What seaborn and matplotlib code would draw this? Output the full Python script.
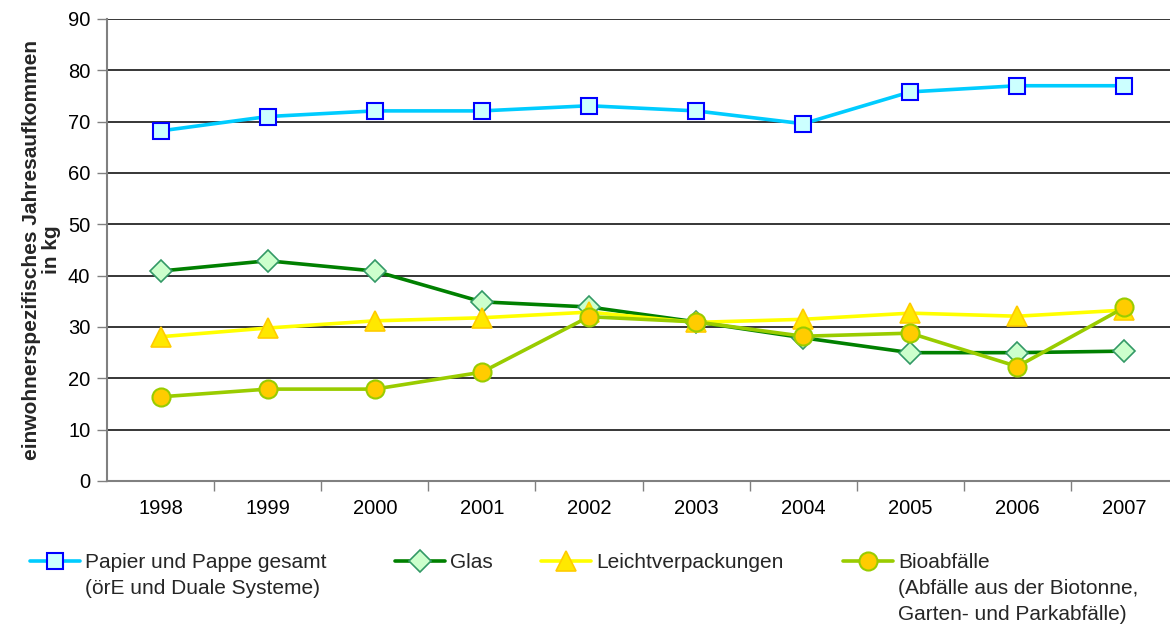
import matplotlib
matplotlib.use("Agg")
import matplotlib.pyplot as plt
import seaborn as sns
import pandas as pd
import numpy as np
from matplotlib.ticker import FixedLocator, MultipleLocator

years = ["1998", "1999", "2000", "2001", "2002", "2003", "2004", "2005", "2006", "2007"]
papier = [68.2, 71.0, 72.1, 72.1, 73.1, 72.1, 69.6, 75.8, 77.0, 77.0]
glas = [40.9, 42.9, 40.9, 34.9, 33.9, 31.0, 27.9, 25.0, 25.0, 25.3]
leicht = [28.1, 29.8, 31.2, 31.8, 32.9, 30.9, 31.5, 32.7, 32.1, 33.3]
bio = [16.4, 17.9, 17.9, 21.2, 32.0, 31.0, 28.2, 28.8, 22.3, 33.8]

labels = ["Papier und Pappe gesamt\n(örE und Duale Systeme)",
          "Glas",
          "Leichtverpackungen",
          "Bioabfälle\n(Abfälle aus der Biotonne,\nGarten- und Parkabfälle)"]

sns.set_theme(style="white")
plt.rcParams['font.family'] = ['Liberation Sans', 'DejaVu Sans']

W, H = 1170, 629
fig = plt.figure(figsize=(W / 100, H / 100), dpi=100)
ax = fig.add_axes([107 / W, 1 - 481 / H, (1178 - 107) / W, (481 - 19) / H])

x = np.arange(len(years))
styles = [
    dict(data=papier, color="#00CCFF", marker="s", ms=12, mfc="#CCFFFF", mec="#0000FF", mew=1.5),
    dict(data=glas, color="#008000", marker="D", ms=11, mfc="#CCFFCC", mec="#339966", mew=1.2),
    dict(data=leicht, color="#FFFF00", marker="^", ms=14.5, mfc="#FFE800", mec="#FFCC00", mew=1.2),
    dict(data=bio, color="#99CC00", marker="o", ms=13, mfc="#FFCC00", mec="#99CC00", mew=1.5),
]
handles = []
for st, lab in zip(styles, labels):
    sns.lineplot(x=x, y=st["data"], ax=ax, color=st["color"], linewidth=2.6,
                 marker=st["marker"], markersize=st["ms"], markerfacecolor=st["mfc"],
                 markeredgecolor=st["mec"], markeredgewidth=st["mew"], label=lab,
                 legend=False, zorder=3, clip_on=False)
    handles.append(ax.lines[-1])

ax.set_xlim(-0.5, len(years) - 0.5)
ax.set_ylim(0, 90)
ax.yaxis.set_major_locator(MultipleLocator(10))
ax.set_xticks(x)
ax.set_xticklabels(years)
ax.xaxis.set_minor_locator(FixedLocator(np.arange(0.5, len(years) - 1, 1.0)))
ax.tick_params(axis="x", which="major", length=0, pad=13, labelsize=14.5, colors="black")
ax.tick_params(axis="x", which="minor", length=7, width=1, color="#808080", direction="out", bottom=True)
ax.tick_params(axis="y", which="major", length=7, width=1, color="#808080", direction="out",
               left=True, labelsize=14.5, labelcolor="black", pad=5)

for y in range(10, 91, 10):
    ax.axhline(y, color="#000000", linewidth=1.1, zorder=1)

for side in ["top", "right"]:
    ax.spines[side].set_visible(False)
for side in ["left", "bottom"]:
    ax.spines[side].set_color("#808080")
    ax.spines[side].set_linewidth(1.5)

ax.set_ylabel("einwohnerspezifisches Jahresaufkommen\nin kg", fontsize=15,
              fontweight="bold", labelpad=5, linespacing=1.05)
ax.set_xlabel("")

# legend entries placed individually; first line beside the handle, rest below
positions = [30, 395, 541, 843]
legs = []
for h, lab, px in zip(handles, labels, positions):
    first = lab.split("\n")[0]
    leg = fig.legend(handles=[h], labels=[first], loc="upper left",
                     bbox_to_anchor=(px / W, 1 - 553 / H), frameon=False,
                     fontsize=15, handlelength=2.4, handletextpad=0.25,
                     borderpad=0, borderaxespad=0)
    legs.append(leg)

fig.canvas.draw()
renderer = fig.canvas.get_renderer()
for leg, lab in zip(legs, labels):
    parts = lab.split("\n")
    t = leg.get_texts()[0]
    bb = t.get_window_extent(renderer)
    for k, line in enumerate(parts[1:], start=1):
        fig.text(bb.x0 / W, (bb.y0 + bb.height / 2 - 26 * k) / H, line,
                 fontsize=15, ha="left", va="center")

fig.savefig("out.png", dpi=100)
